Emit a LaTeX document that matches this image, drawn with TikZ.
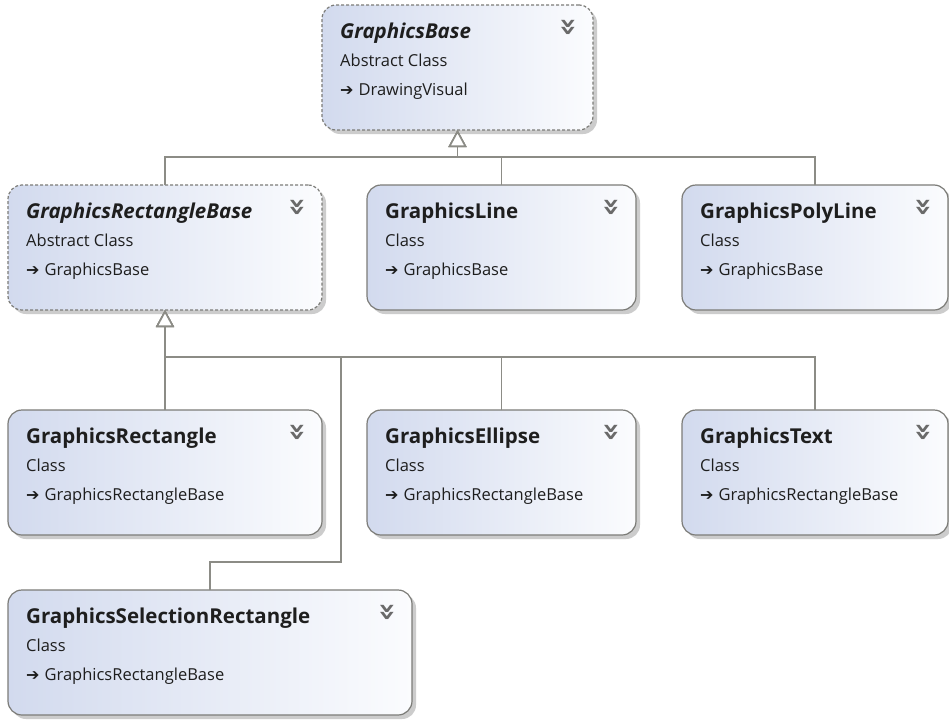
\documentclass[tikz,border=0pt]{standalone}
\usepackage{fontspec}
\setmainfont{Open Sans}
\newfontfamily\symfont{DejaVu Sans}
\usetikzlibrary{arrows.meta,shadows}
\definecolor{ink}{HTML}{1E1E1E}
\definecolor{frame}{HTML}{7C7C78}
\definecolor{wire}{HTML}{8C8C86}
\definecolor{shade}{HTML}{D2DAEE}
\definecolor{paper}{HTML}{FBFCFE}
\definecolor{chev}{HTML}{6A6A6A}
\newcommand{\parentarrow}{{\symfont\bfseries\fontsize{16}{16}\selectfont ➔}\hspace{5pt}}

\begin{document}
\begin{tikzpicture}[
 x=1pt,y=-1pt,
 cls/.style={rounded corners=14pt,draw=frame,line width=1.2pt,left color=shade,right color=paper,
   minimum height=125pt,outer sep=0pt,inner sep=0pt,
   drop shadow={shadow xshift=4pt,shadow yshift=-4pt,fill=black!20,opacity=1}},
 abstract/.style={cls,dash pattern=on 3pt off 2pt},
 clsname/.style={font=\fontsize{20.5}{22}\selectfont\bfseries,text=ink,anchor=base west,inner sep=0pt},
 clskind/.style={font=\fontsize{16.5}{18}\selectfont,text=ink,anchor=base west,inner sep=0pt},
 chevron/.style={font=\symfont\bfseries\fontsize{30}{30}\selectfont,text=chev,rotate=-90,inner sep=0pt},
 inherit/.style={draw=wire,line width=1.6pt,-{Triangle[open,length=17pt,width=18pt,fill=white]}}
]
\fill[white] (0,0) rectangle (949,720);
\useasboundingbox (0,0) rectangle (949,720);

% Abstract root.
\node[abstract,minimum width=271pt] (base) at (457.5,67.5) {};
\node[clsname,font=\fontsize{20.5}{22}\selectfont\bfseries\itshape] (baset) at ([shift={(18,33)}]base.north west) {GraphicsBase};
\node[clskind] (basek) at ([shift={(18,61)}]base.north west) {Abstract Class};
\node[clskind] (basep) at ([shift={(18,90)}]base.north west) {\parentarrow DrawingVisual};
\node[chevron] (basec) at ([shift={(-26,22)}]base.north east) {»};

% Second row.
\node[abstract,minimum width=314pt] (rbase) at (165,247.5) {};
\node[clsname,font=\fontsize{20.5}{22}\selectfont\bfseries\itshape] (rbaset) at ([shift={(18,33)}]rbase.north west) {GraphicsRectangleBase};
\node[clskind] (rbasek) at ([shift={(18,61)}]rbase.north west) {Abstract Class};
\node[clskind] (rbasep) at ([shift={(18,90)}]rbase.north west) {\parentarrow GraphicsBase};
\node[chevron] (rbasec) at ([shift={(-26,22)}]rbase.north east) {»};

\node[cls,minimum width=269pt] (gline) at (501.5,247.5) {};
\node[clsname] (glinet) at ([shift={(18,33)}]gline.north west) {GraphicsLine};
\node[clskind] (glinek) at ([shift={(18,61)}]gline.north west) {Class};
\node[clskind] (glinep) at ([shift={(18,90)}]gline.north west) {\parentarrow GraphicsBase};
\node[chevron] (glinec) at ([shift={(-26,22)}]gline.north east) {»};

\node[cls,minimum width=266pt] (gpoly) at (815,247.5) {};
\node[clsname] (gpolyt) at ([shift={(18,33)}]gpoly.north west) {GraphicsPolyLine};
\node[clskind] (gpolyk) at ([shift={(18,61)}]gpoly.north west) {Class};
\node[clskind] (gpolyp) at ([shift={(18,90)}]gpoly.north west) {\parentarrow GraphicsBase};
\node[chevron] (gpolyc) at ([shift={(-26,22)}]gpoly.north east) {»};

% Third row.
\node[cls,minimum width=314pt] (grect) at (165,472.5) {};
\node[clsname] (grectt) at ([shift={(18,33)}]grect.north west) {GraphicsRectangle};
\node[clskind] (grectk) at ([shift={(18,61)}]grect.north west) {Class};
\node[clskind] (grectp) at ([shift={(18,90)}]grect.north west) {\parentarrow GraphicsRectangleBase};
\node[chevron] (grectc) at ([shift={(-26,22)}]grect.north east) {»};

\node[cls,minimum width=269pt] (gellipse) at (501.5,472.5) {};
\node[clsname] (gellipset) at ([shift={(18,33)}]gellipse.north west) {GraphicsEllipse};
\node[clskind] (gellipsek) at ([shift={(18,61)}]gellipse.north west) {Class};
\node[clskind] (gellipsep) at ([shift={(18,90)}]gellipse.north west) {\parentarrow GraphicsRectangleBase};
\node[chevron] (gellipsec) at ([shift={(-26,22)}]gellipse.north east) {»};

\node[cls,minimum width=266pt] (gtext) at (815,472.5) {};
\node[clsname] (gtextt) at ([shift={(18,33)}]gtext.north west) {GraphicsText};
\node[clskind] (gtextk) at ([shift={(18,61)}]gtext.north west) {Class};
\node[clskind] (gtextp) at ([shift={(18,90)}]gtext.north west) {\parentarrow GraphicsRectangleBase};
\node[chevron] (gtextc) at ([shift={(-26,22)}]gtext.north east) {»};

% Fourth row.
\node[cls,minimum width=404pt] (gsel) at (210,652.5) {};
\node[clsname] (gselt) at ([shift={(18,33)}]gsel.north west) {GraphicsSelectionRectangle};
\node[clskind] (gselk) at ([shift={(18,61)}]gsel.north west) {Class};
\node[clskind] (gselp) at ([shift={(18,90)}]gsel.north west) {\parentarrow GraphicsRectangleBase};
\node[chevron] (gselc) at ([shift={(-26,22)}]gsel.north east) {»};

% Inheritance.
\coordinate (j1) at (457.5,157);
\coordinate (j2) at (165,357);
\coordinate (k1) at (341,562);
\draw[inherit] (rbase.north) |- (j1) -- (base.south);
\draw[inherit] (gline.north) |- (j1) -- (base.south);
\draw[inherit] (gpoly.north) |- (j1) -- (base.south);
\draw[inherit] (grect.north) -- (rbase.south);
\draw[inherit] (gellipse.north) |- (j2) -- (rbase.south);
\draw[inherit] (gtext.north) |- (j2) -- (rbase.south);
\draw[inherit] (gsel.north) |- (k1) |- (j2) -- (rbase.south);
\end{tikzpicture}
\end{document}
